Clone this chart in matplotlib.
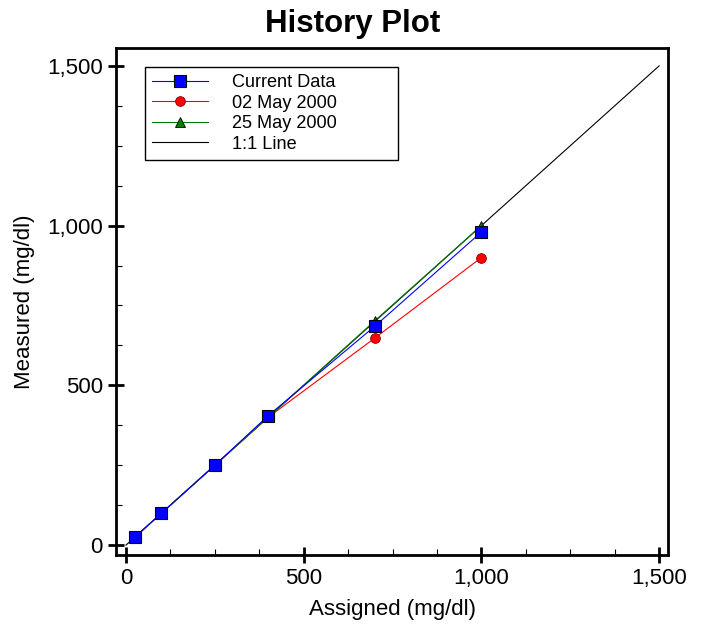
import numpy as np
import matplotlib.pyplot as plt
from matplotlib.ticker import MultipleLocator, FuncFormatter

plt.rcParams['font.family'] = ['Liberation Sans', 'DejaVu Sans']

# data
assigned = [25, 100, 250, 400, 700, 1000]
current = [25, 100, 250, 405, 685, 980]
may02 = [25, 100, 250, 400, 648, 900]
may25 = [25, 100, 250, 400, 702, 1000]
one_to_one = [0, 1500]

fig = plt.figure(figsize=(7.06, 6.28), dpi=100)
ax = fig.add_axes([0.1643, 0.1162, 0.7819, 0.8074])

ax.plot(one_to_one, one_to_one, color='black', lw=0.8, label='1:1 Line', zorder=2)
ax.plot(assigned, may02, color='red', lw=0.8, marker='o', ms=7,
        mec='#800000', mew=0.6, label='02 May 2000', zorder=3)
ax.plot(assigned, may25, color='green', lw=0.8, marker='^', ms=7,
        mec='black', mew=0.6, label='25 May 2000', zorder=4)
ax.plot(assigned, current, color='blue', lw=0.8, marker='s', ms=9,
        mec='black', mew=0.8, label='Current Data', zorder=5)

ax.set_xlim(-28, 1525)
ax.set_ylim(-31, 1556)

fmt = FuncFormatter(lambda v, p: f'{int(v):,}')
for a in (ax.xaxis, ax.yaxis):
    a.set_major_locator(MultipleLocator(500))
    a.set_minor_locator(MultipleLocator(125))
    a.set_major_formatter(fmt)

ax.tick_params(which='major', direction='inout', length=11, width=2, labelsize=16, pad=4)
ax.tick_params(which='minor', direction='in', length=4, width=0.8)
for s in ax.spines.values():
    s.set_linewidth(2)

ax.set_xlabel('Assigned (mg/dl)', fontsize=16, labelpad=7)
ax.set_ylabel('Measured (mg/dl)', fontsize=16, labelpad=9)
fig.suptitle('History Plot', fontsize=22.5, fontweight='bold', y=0.985)

h, l = ax.get_legend_handles_labels()
order = [3, 1, 2, 0]
leg = ax.legend([h[i] for i in order], [l[i] for i in order], loc='upper left',
                bbox_to_anchor=(0.052, 0.0, 0.458, 0.9625), mode='expand',
                fontsize=13.1, fancybox=False,
                edgecolor='black', framealpha=1, handlelength=3.1,
                borderpad=0.4, labelspacing=0.19, handletextpad=1.3,
                borderaxespad=0)
leg.get_frame().set_linewidth(1)

fig.savefig('out.png', dpi=100)
